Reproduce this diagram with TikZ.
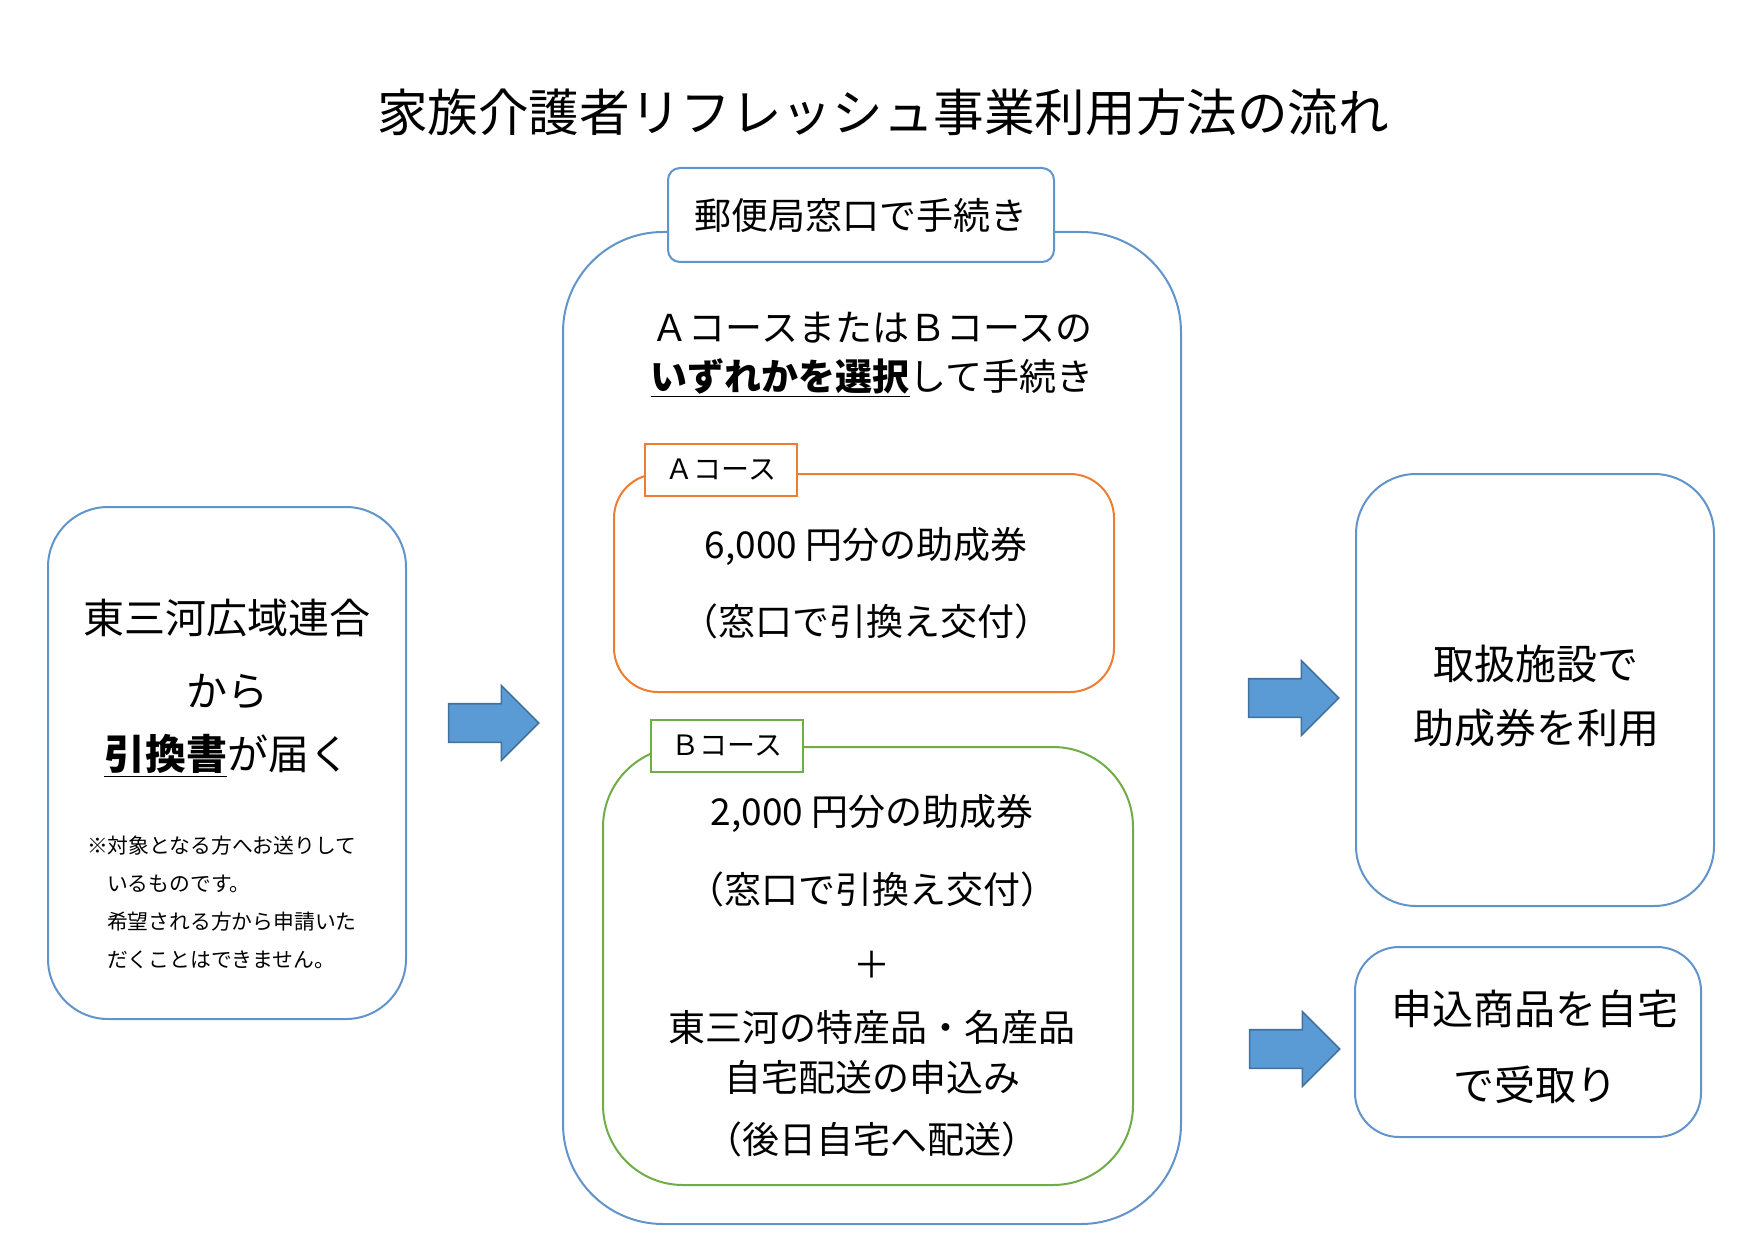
\documentclass[tikz,border=0pt]{standalone}
\usepackage{fontspec}
\setmainfont{Noto Sans CJK JP}
\usetikzlibrary{positioning}
\usetikzlibrary{shapes.arrows}
\definecolor{waku}{RGB}{98,148,204}
\definecolor{yaji}{RGB}{91,155,213}
\definecolor{yajisen}{RGB}{65,113,156}
\definecolor{daidai}{RGB}{237,125,49}
\definecolor{midori}{RGB}{112,173,71}
\begin{document}
\begin{tikzpicture}[x=0.5pt,y=-0.5pt,align=center,
hako/.style={draw=waku,line width=1pt,rounded corners=30pt,fill=white},
midashi/.style={draw=waku,line width=1pt,rounded corners=6pt,fill=white,font=\fontsize{18.5}{22}\selectfont},
ranbel/.style={line width=0.8pt,fill=white,font=\fontsize{14}{17}\selectfont,minimum width=76pt,minimum height=26pt},
honbun/.style={font=\fontsize{18.5}{22}\selectfont},
ookii/.style={font=\fontsize{20.5}{24}\selectfont},
chuui/.style={font=\fontsize{10.4}{13}\selectfont,anchor=west},
yajirushi/.style={single arrow,draw=yajisen,fill=yaji,line width=0.8pt,minimum height=45pt,single arrow head extend=9pt,inner sep=9.25pt}
]
\useasboundingbox (0,0) rectangle (1755,1241);
%--
\node[font=\fontsize{25.3}{30}\selectfont] (title) at (883,112) {家族介護者リフレッシュ事業利用方法の流れ};
%--
\node[hako,minimum width=179pt,minimum height=256pt] (hidari) at (227,763) {};
\node[ookii] (h1) at (227,618) {東三河広域連合};
\node[ookii] (h2) at (227,692) {から};
\node[ookii] (h3) at (227,756) {\underline{\textbf{引換書}}が届く};
\node[chuui] (n1) at (80,846) {※対象となる方へお送りして};
\node[chuui] (n2) at (100,884) {いるものです。};
\node[chuui] (n3) at (100,922) {希望される方から申請いた};
\node[chuui] (n4) at (100,960) {だくことはできません。};
%--
\node[yajirushi] (y1) at (484,723) {};
%--
\node[hako,rounded corners=50pt,minimum width=309pt,minimum height=496pt] (naka) at (872,728) {};
\node[midashi,minimum width=193pt,minimum height=47pt] (kyoku) at (861,215) {郵便局窓口で手続き};
\node[honbun] (s1) at (872,328) {ＡコースまたはＢコースの};
\node[honbun] (s2) at (872,378) {\underline{\textbf{いずれかを選択}}して手続き};
%--
\node[hako,draw=daidai,rounded corners=22pt,minimum width=250pt,minimum height=109pt] (acourse) at (864,583) {};
\node[ranbel,draw=daidai] (alab) at (721,470) {Ａコース};
\node[honbun] (a1) at (866,546) {6,000 円分の助成券};
\node[honbun] (a2) at (866,621) {（窓口で引換え交付）};
%--
\node[hako,draw=midori,rounded corners=40pt,minimum width=265pt,minimum height=219pt] (bcourse) at (868,966) {};
\node[ranbel,draw=midori] (blab) at (727,746) {Ｂコース};
\node[honbun] (b1) at (872,813) {2,000 円分の助成券};
\node[honbun] (b2) at (872,889) {（窓口で引換え交付）};
\node[honbun] (b3) at (872,965) {＋};
\node[honbun] (b4) at (872,1027) {東三河の特産品・名産品};
\node[honbun] (b5) at (872,1077) {自宅配送の申込み};
\node[honbun] (b6) at (872,1139) {（後日自宅へ配送）};
%--
\node[yajirushi] (y2) at (1284,698) {};
\node[yajirushi] (y3) at (1285,1049) {};
%--
\node[hako,minimum width=179pt,minimum height=216pt] (migi1) at (1535,690) {};
\node[ookii] (m1) at (1536,664) {取扱施設で};
\node[ookii] (m2) at (1536,728) {助成券を利用};
\node[hako,rounded corners=22pt,minimum width=173pt,minimum height=95pt] (migi2) at (1528,1042) {};
\node[ookii] (m3) at (1535,1009) {申込商品を自宅};
\node[ookii] (m4) at (1535,1085) {で受取り};
\end{tikzpicture}
\end{document}
